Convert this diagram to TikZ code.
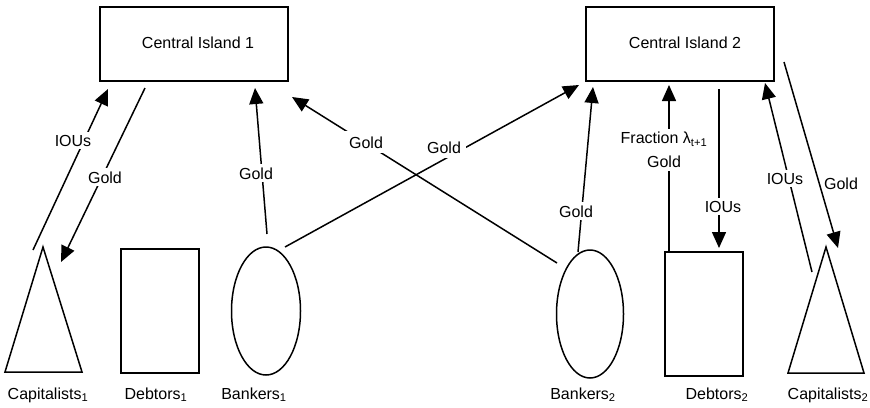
\documentclass[tikz,border=0pt]{standalone}
\usepackage{fontspec}
\setmainfont{Liberation Sans}
\usetikzlibrary{arrows.meta,shapes.geometric}
\begin{document}
\begin{tikzpicture}[x=1pt,y=-1pt,
  every node/.style={font=\fontsize{16}{24}\selectfont},
  shp/.style={draw, line width=1.5pt, inner sep=0pt},
  arr/.style={line width=1.5pt, -{Triangle[length=16pt,width=14pt]}},
  lbl/.style={fill=white, inner sep=3pt, anchor=base},
  txtnode/.style={anchor=base, inner sep=0pt}
]
\useasboundingbox (0,0) rectangle (870,407);

% main boxes
\node[shp, rectangle, minimum width=188pt, minimum height=74pt] (box1) at (194,44) {};
\node[shp, rectangle, minimum width=188pt, minimum height=74pt] (box2) at (680,44) {};
\node[txtnode] (t1) at (198,48) {Central Island 1};
\node[txtnode] (t2) at (685,48) {Central Island 2};

% agents
\coordinate (c1a) at (43,247);
\coordinate (c1b) at (5,372);
\coordinate (c1c) at (82,372);
\draw[line width=1.5pt, line join=miter] (c1a) -- (c1b) -- (c1c) -- cycle;
\node[shp, rectangle, minimum width=78pt, minimum height=124pt] (deb1) at (160,311) {};
\node[shp, ellipse, minimum width=69pt, minimum height=128pt] (bk1) at (266,311) {};
\node[shp, ellipse, minimum width=67pt, minimum height=128pt] (bk2) at (590,314) {};
\node[shp, rectangle, minimum width=78pt, minimum height=124pt] (deb2) at (704,314) {};
\coordinate (c2a) at (826,247);
\coordinate (c2b) at (788,373);
\coordinate (c2c) at (864,373);
\draw[line width=1.5pt, line join=miter] (c2a) -- (c2b) -- (c2c) -- cycle;

% agent labels
\node[txtnode] (lc1) at (48,399) {Capitalists\textsubscript{1}};
\node[txtnode] (ld1) at (156,399) {Debtors\textsubscript{1}};
\node[txtnode] (lb1) at (254,399) {Bankers\textsubscript{1}};
\node[txtnode] (lb2) at (583,399) {Bankers\textsubscript{2}};
\node[txtnode] (ld2) at (717,399) {Debtors\textsubscript{2}};
\node[txtnode] (lc2) at (828,399) {Capitalists\textsubscript{2}};

% connector end points
\coordinate (a1s) at (33,250);  \coordinate (a1e) at (108,89);
\coordinate (a2s) at (145,88);  \coordinate (a2e) at (61,262);
\coordinate (a3s) at (267,234); \coordinate (a3e) at (255,88);
\coordinate (a4s) at (557,263); \coordinate (a4e) at (292,97);
\coordinate (a5s) at (285,247); \coordinate (a5e) at (579,85);
\coordinate (a6s) at (578,252); \coordinate (a6e) at (593,87);
\coordinate (a7s) at (669,252); \coordinate (a7e) at (669,85);
\coordinate (a8s) at (719,89);  \coordinate (a8e) at (719,248);
\coordinate (a9s) at (812,272); \coordinate (a9e) at (765,83);
\coordinate (a10s) at (784,62); \coordinate (a10e) at (838,248);

\draw[arr] (a1s) -- (a1e);
\draw[arr] (a2s) -- (a2e);
\draw[arr] (a3s) -- (a3e);
\draw[arr] (a4s) -- (a4e);
\draw[arr] (a5s) -- (a5e);
\draw[arr] (a6s) -- (a6e);
\draw[arr] (a7s) -- (a7e);
\draw[arr] (a8s) -- (a8e);
\draw[arr] (a9s) -- (a9e);
\draw[arr] (a10s) -- (a10e);

% connector labels
\node[lbl] (l1) at (73,146) {IOUs};
\node[lbl] (l2) at (105,183) {Gold};
\node[lbl] (l3) at (256,179) {Gold};
\node[lbl, inner sep=5pt] (l4) at (366,148) {Gold};
\node[lbl, inner sep=5pt] (l5) at (444,153) {Gold};
\node[lbl] (l6) at (576,217) {Gold};
\node[fill=white, inner sep=3pt, align=center] (l7) at (664,150) {Fraction λ\textsubscript{t+1}\\Gold};
\node[lbl] (l8) at (723,212) {IOUs};
\node[lbl] (l9) at (785,184) {IOUs};
\node[txtnode] (l10) at (841,189) {Gold};
\end{tikzpicture}
\end{document}
